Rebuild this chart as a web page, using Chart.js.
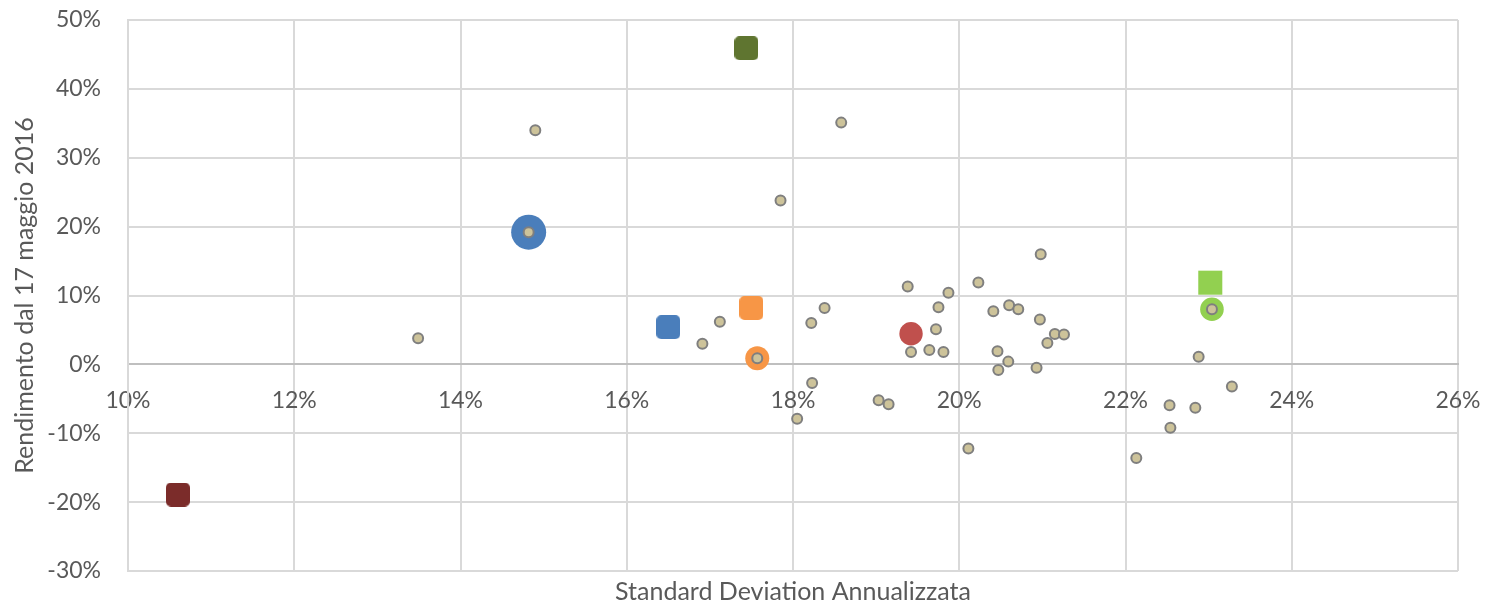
<!DOCTYPE html>
<html>
<head>
<meta charset="utf-8">
<script src="https://cdn.jsdelivr.net/npm/chart.js@4"></script>
<style>
  html, body { margin: 0; padding: 0; background: #ffffff; }
  #wrap { width: 1486px; height: 605px; }
</style>
</head>
<body>
<div id="wrap"><canvas id="scatterChart"></canvas></div>
<script>
// Axis ranges / ticks
const xTicks = [10, 12, 14, 16, 18, 20, 22, 24, 26];
const yTicks = [-30, -20, -10, 0, 10, 20, 30, 40, 50];

// Grey points: std dev (%) and return (%)
const greyX = [13.49, 14.90, 14.82, 16.91, 17.12, 17.57, 17.85, 18.58, 18.22, 18.38,
  18.23, 18.05, 19.03, 19.15, 19.38, 19.42, 19.64, 19.81, 19.72, 19.75,
  19.87, 20.23, 20.41, 20.60, 20.71, 20.98, 20.97, 21.15, 21.26, 21.06,
  20.46, 20.59, 20.47, 20.93, 20.11, 22.88, 23.28, 22.53, 22.84, 22.54,
  22.13, 23.04];
const greyY = [3.8, 34.0, 19.2, 3.0, 6.2, 0.9, 23.8, 35.1, 6.0, 8.2,
  -2.7, -7.9, -5.2, -5.8, 11.3, 1.8, 2.1, 1.8, 5.1, 8.3,
  10.4, 11.9, 7.7, 8.6, 8.0, 16.0, 6.5, 4.4, 4.35, 3.1,
  1.9, 0.4, -0.8, -0.5, -12.2, 1.1, -3.2, -5.95, -6.3, -9.2,
  -13.6, 8.0];

// Highlighted markers
const markerX = [14.82, 16.50, 17.50, 17.57, 17.44, 19.42, 23.02, 23.04, 10.60];
const markerY = [19.2, 5.4, 8.2, 0.9, 45.9, 4.45, 11.86, 8.0, -18.9];

// little rounded square used as a point style
function roundedSquare(color, side, corner) {
  const c = document.createElement('canvas');
  c.width = side;
  c.height = side;
  const g = c.getContext('2d');
  g.fillStyle = color;
  g.beginPath();
  g.roundRect(0, 0, side, side, corner);
  g.fill();
  return c;
}

const markerLook = [
  { color: '#4a7ebb', shape: 'circle', size: 17.5 },
  { color: '#4a7ebb', shape: roundedSquare('#4a7ebb', 24, 5), size: 12 },
  { color: '#f79646', shape: roundedSquare('#f79646', 24, 5), size: 12 },
  { color: '#f79646', shape: 'circle', size: 12 },
  { color: '#5f7530', shape: roundedSquare('#5f7530', 24, 5), size: 12 },
  { color: '#c0504d', shape: 'circle', size: 11.7 },
  { color: '#92d050', shape: 'rect', size: 17 },
  { color: '#92d050', shape: 'circle', size: 11.8 },
  { color: '#7b2c2a', shape: roundedSquare('#7b2c2a', 24, 5), size: 12 }
];

const TEXT = '#595959';
const FONT = 'Lato';
const NONE = 'rgba(0,0,0,0)';

const greyPoints = greyX.map((x, i) => ({ x: x, y: greyY[i] }));

const datasets = [{
  label: 'Titoli',
  data: greyPoints,
  pointRadius: 5,
  pointBorderWidth: 2,
  pointBackgroundColor: '#cdc39a',
  pointBorderColor: '#7f7f7f',
  showLine: false,
  order: 0
}];

markerX.forEach((x, i) => {
  const look = markerLook[i];
  datasets.push({
    label: 'm' + i,
    data: [{ x: x, y: markerY[i] }],
    pointStyle: look.shape,
    pointRadius: look.size,
    pointBorderWidth: 0,
    pointBackgroundColor: look.color,
    pointBorderColor: look.color,
    showLine: false,
    order: 1
  });
});

const ctx = document.getElementById('scatterChart').getContext('2d');

new Chart(ctx, {
  type: 'scatter',
  data: { datasets: datasets },
  options: {
    responsive: true,
    maintainAspectRatio: false,
    animation: false,
    events: [],
    layout: { padding: { left: 0, right: 28, top: 20, bottom: 0 } },
    scales: {
      x: {
        type: 'linear',
        min: xTicks[0],
        max: xTicks[xTicks.length - 1],
        position: { y: 0 },
        afterFit: (scale) => { scale.height = 0; },
        afterBuildTicks: (scale) => { scale.ticks = xTicks.map(v => ({ value: v })); },
        grid: { color: '#d9d9d9', lineWidth: 2, drawTicks: true, tickLength: 22, tickColor: NONE },
        border: { display: true, color: '#bfbfbf', width: 2 },
        ticks: {
          padding: 0,
          color: TEXT,
          font: { family: FONT, size: 23 },
          callback: v => v + '%'
        }
      },
      y: {
        type: 'linear',
        min: yTicks[0],
        max: yTicks[yTicks.length - 1],
        afterFit: (scale) => { scale.width = 128; },
        afterBuildTicks: (scale) => { scale.ticks = yTicks.map(v => ({ value: v })); },
        grid: { color: '#d9d9d9', lineWidth: 2, drawTicks: true, tickLength: 27, tickColor: NONE },
        border: { display: true, color: '#d9d9d9', width: 2 },
        ticks: {
          padding: 0,
          color: TEXT,
          font: { family: FONT, size: 23 },
          callback: v => v + '%'
        },
        title: {
          display: true,
          text: 'Rendimento dal 17 maggio 2016',
          color: TEXT,
          font: { family: FONT, size: 25, lineHeight: 1.2 },
          padding: { top: 10, bottom: 0 }
        }
      }
    },
    plugins: {
      legend: { display: false },
      tooltip: { enabled: false },
      title: {
        display: true,
        position: 'bottom',
        fullSize: false,
        text: 'Standard Deviation Annualizzata',
        color: TEXT,
        font: { family: FONT, size: 25, weight: 'normal', lineHeight: 1 },
        padding: { top: 8, bottom: 1 }
      }
    }
  }
});
</script>
</body>
</html>
